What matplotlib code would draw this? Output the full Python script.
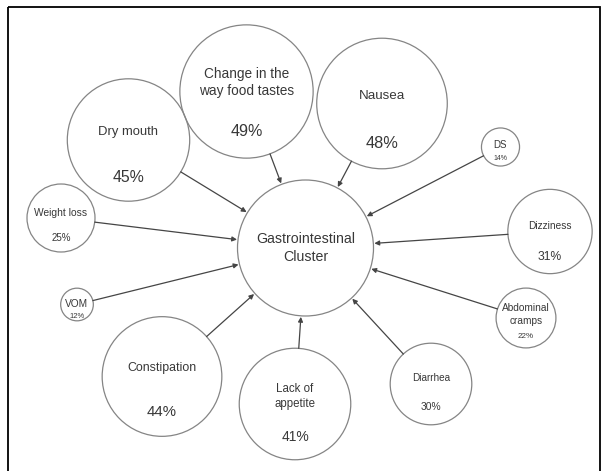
import numpy as np
import matplotlib.pyplot as plt
from matplotlib.patches import Circle, Rectangle

plt.rcParams['font.family'] = ['Liberation Sans', 'DejaVu Sans']

# === Data ===
symptoms = ["Change in the\nway food tastes", "Nausea", "Dry mouth", "DS", "Weight loss",
            "Dizziness", "VOM", "Abdominal\ncramps", "Constipation", "Lack of\nappetite",
            "Diarrhea"]
percents = [49, 48, 45, 14, 25, 31, 12, 22, 44, 41, 30]
cluster_label = "Gastrointestinal\nCluster"

# === Layout (pixel coords, y down) ===
hub = (305.5, 248)
hub_r = 68
centers = [(246.5, 91.5), (382, 103.5), (128.5, 140), (500.5, 147), (61, 218),
           (550, 231.5), (77, 304.5), (526, 318), (162, 376.5), (295, 404), (431, 384)]
label_dy = [-9, -7.5, -8, -2, -5, -5.5, -0.5, -3.5, -8.5, -7.5, -6]
pct_dy = [40.5, 39.5, 37, 11, 20, 25.5, 12.5, 19, 35.5, 33, 23]
label_fs = [9.8, 9.6, 9.4, 7.0, 7.4, 7.3, 7.3, 7.3, 8.9, 8.3, 7.2]
pct_fs = [11.6, 11.8, 11.4, 5.0, 7.0, 8.7, 5.5, 5.8, 10.8, 10.0, 7.4]
r_scale = 1.36

edge = '#858585'
txt = '#383838'

fig = plt.figure(figsize=(6.05, 4.71), dpi=100)
ax = fig.add_axes([0, 0, 1, 1])
ax.set_xlim(0, 605)
ax.set_ylim(471, 0)
ax.axis('off')

# outer frame
ax.add_patch(Rectangle((8, 7), 592, 470, fill=False, ec='black', lw=1.3))

# hub circle
ax.add_patch(Circle(hub, hub_r, fill=False, ec=edge, lw=0.9))
ax.text(hub[0], hub[1], cluster_label, ha='center', va='center', fontsize=10.2,
        color=txt, linespacing=1.35)

for name, p, c, ldy, pdy, lfs, pfs in zip(symptoms, percents, centers, label_dy,
                                          pct_dy, label_fs, pct_fs):
    r = p * r_scale
    ax.add_patch(Circle(c, r, fill=False, ec=edge, lw=0.9))
    ax.text(c[0], c[1] + ldy, name, ha='center', va='center', fontsize=lfs,
            color=txt, linespacing=1.35)
    ax.text(c[0], c[1] + pdy, f"{p}%", ha='center', va='center', fontsize=pfs,
            color=txt)

    # arrow from symptom circle edge to hub edge
    d = np.array(hub) - np.array(c)
    u = d / np.linalg.norm(d)
    start = np.array(c) + u * r
    end = np.array(hub) - u * (hub_r + 1)
    ax.annotate("", xy=end, xytext=start,
                arrowprops=dict(arrowstyle='-|>', color='#454545', lw=0.9,
                                mutation_scale=7, shrinkA=0, shrinkB=0))

plt.savefig("out.png", dpi=100)
